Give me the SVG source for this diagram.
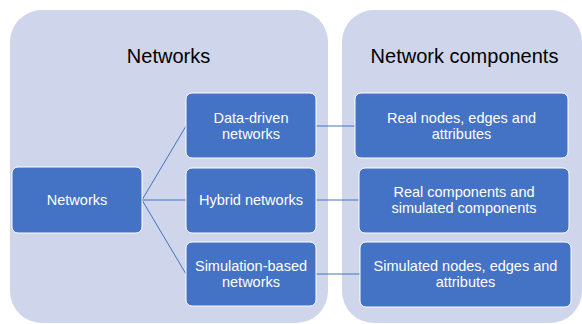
<svg xmlns="http://www.w3.org/2000/svg" width="582" height="324" viewBox="0 0 582 324">
<style>
.panel{fill:#CFD5EA;stroke:none}
.node{fill:#4472C4;stroke:#FFFFFF;stroke-width:1}
.title{font-family:"Liberation Sans",Arial,sans-serif;font-size:20px;fill:#000000;text-anchor:middle}
.lbl{font-family:"Liberation Sans",Arial,sans-serif;font-size:14.5px;fill:#FFFFFF;text-anchor:middle}
.conn{stroke:#4472C4;stroke-width:1;fill:none}
</style>
<rect width="582" height="324" fill="#FFFFFF"/>
<g id="panel-networks">
<rect class="panel" x="10" y="10" width="318" height="313" rx="32" ry="32"/>
<text class="title" x="168.5" y="63">Networks</text>
</g>
<g id="panel-components">
<rect class="panel" x="342" y="10" width="240" height="313" rx="32" ry="32"/>
<text class="title" x="464.5" y="63">Network components</text>
</g>
<g id="connectors">
<line class="conn" x1="142" y1="200" x2="186" y2="126"/>
<line class="conn" x1="142" y1="200" x2="186" y2="200"/>
<line class="conn" x1="142" y1="200" x2="186" y2="274"/>
<line class="conn" x1="316" y1="126" x2="355" y2="126"/>
<line class="conn" x1="316" y1="200" x2="359" y2="200"/>
<line class="conn" x1="316" y1="274" x2="360" y2="274"/>
</g>
<g id="node-networks">
<rect class="node" x="12" y="167" width="130" height="66" rx="6"/>
<text class="lbl" x="77" y="205">Networks</text>
</g>
<g id="node-data-driven">
<rect class="node" x="186" y="93" width="130" height="65" rx="6"/>
<text class="lbl" x="251" y="122.5">Data-driven</text>
<text class="lbl" x="251" y="138.5">networks</text>
</g>
<g id="node-hybrid">
<rect class="node" x="186" y="168" width="130" height="65" rx="6"/>
<text class="lbl" x="251" y="205">Hybrid networks</text>
</g>
<g id="node-simulation">
<rect class="node" x="186" y="242" width="130" height="64" rx="6"/>
<text class="lbl" x="251" y="271">Simulation-based</text>
<text class="lbl" x="251" y="287">networks</text>
</g>
<g id="node-real">
<rect class="node" x="355" y="93" width="213" height="65" rx="6"/>
<text class="lbl" x="461.5" y="122.5">Real nodes, edges and</text>
<text class="lbl" x="461.5" y="138.5">attributes</text>
</g>
<g id="node-mixed">
<rect class="node" x="359" y="168" width="210" height="65" rx="6"/>
<text class="lbl" x="464" y="197">Real components and</text>
<text class="lbl" x="464" y="213">simulated components</text>
</g>
<g id="node-simulated">
<rect class="node" x="360" y="242" width="211" height="65" rx="6"/>
<text class="lbl" x="465.5" y="271">Simulated nodes, edges and</text>
<text class="lbl" x="465.5" y="287">attributes</text>
</g>
</svg>
